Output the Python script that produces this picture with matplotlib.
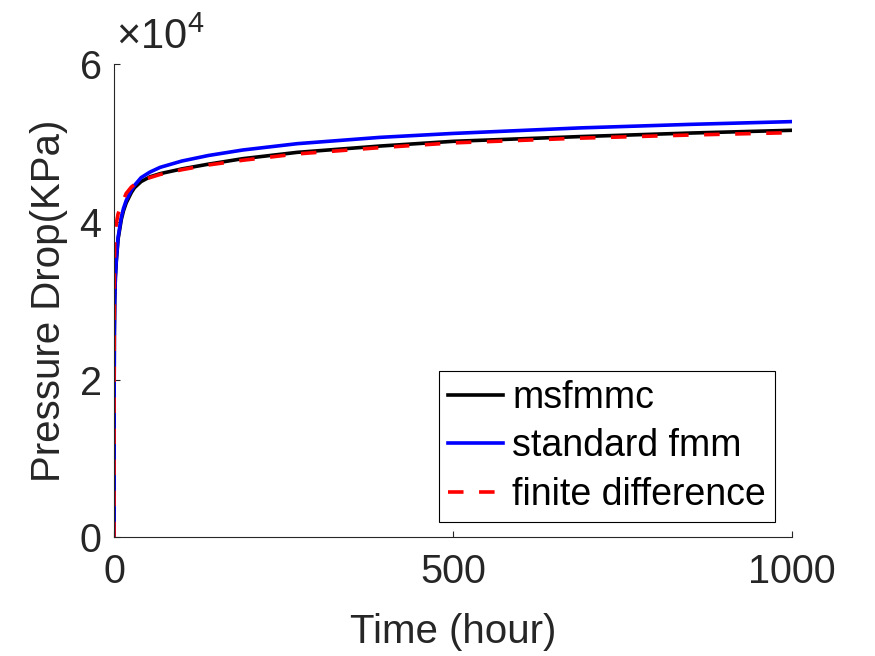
import matplotlib.pyplot as plt

plt.rcParams['font.family'] = ['Liberation Sans', 'DejaVu Sans']
plt.rcParams['mathtext.fontset'] = 'custom'
plt.rcParams['mathtext.rm'] = 'Liberation Sans'

# tiempos (horas)
tiempo = [0, 0.1, 0.5, 1, 2, 3.4, 6, 10.8, 14, 18, 25.5, 30, 40, 53, 68, 100,
          139, 190, 270, 392, 500, 687, 850, 1000]

# caida de presion (x10^4 KPa) para cada metodo
p_msfmmc = [0, 1.5, 2.6, 3.0, 3.3, 3.50, 3.78, 4.03, 4.14, 4.24, 4.37, 4.43, 4.51,
            4.57, 4.61, 4.67, 4.73, 4.80, 4.88, 4.96, 5.02, 5.08, 5.125, 5.16]
p_fmm = [0, 1.5, 2.6, 3.0, 3.3, 3.52, 3.80, 4.06, 4.17, 4.27, 4.40, 4.46, 4.56,
         4.63, 4.69, 4.77, 4.84, 4.91, 4.99, 5.07, 5.12, 5.19, 5.235, 5.27]
p_fd = [0, 2.0, 3.3, 3.75, 3.88, 3.98, 4.10, 4.21, 4.28, 4.36, 4.44, 4.47, 4.52,
        4.56, 4.60, 4.66, 4.72, 4.78, 4.86, 4.94, 5.00, 5.06, 5.10, 5.13]

escala = 1e4

fig = plt.figure(figsize=(8.75, 6.56), dpi=100)
ax = fig.add_axes([0.1303, 0.181, 0.775, 0.7214])

ax.plot(tiempo, [p * escala for p in p_msfmmc], color='black', lw=2.6, label='msfmmc')
ax.plot(tiempo, [p * escala for p in p_fmm], color='#0000ff', lw=2.6, label='standard fmm')
ax.plot(tiempo, [p * escala for p in p_fd], color='#ff0000', lw=2.6, dashes=(4.3, 4.3),
        label='finite difference')

ax.set_xlim(0, 1000)
ax.set_ylim(0, 60000)
ax.set_xticks([0, 500, 1000])
ax.set_xticklabels(['0', '500', '1000'])
ax.set_yticks([0, 20000, 40000, 60000])
ax.set_yticklabels(['0', '2', '4', '6'])

gris = '#262626'
for lado in ['top', 'right']:
    ax.spines[lado].set_visible(False)
for lado in ['left', 'bottom']:
    ax.spines[lado].set_color(gris)
    ax.spines[lado].set_linewidth(0.8)
ax.tick_params(direction='in', length=4, width=0.8, colors=gris, labelsize=28.5)
ax.tick_params(axis='x', pad=11)
ax.tick_params(axis='y', pad=9)
for lbl in ax.get_xticklabels() + ax.get_yticklabels():
    lbl.set_color(gris)

ax.set_xlabel('Time (hour)', fontsize=29, color=gris, labelpad=16)
ax.set_ylabel('Pressure Drop(KPa)', fontsize=29, color=gris, labelpad=8)

ax.text(0.003, 1.012, r'$\times10^{4}$', transform=ax.transAxes, fontsize=30,
        color=gris, ha='left', va='bottom')

leg = ax.legend(loc='lower right', bbox_to_anchor=(0.975, 0.032), borderaxespad=0,
                fontsize=27, handlelength=1.45, handletextpad=0.25, labelspacing=0.33,
                borderpad=0.25, fancybox=False, framealpha=1)
leg.get_frame().set_edgecolor('black')
leg.get_frame().set_linewidth(0.8)

fig.savefig('out.png', dpi=100)
